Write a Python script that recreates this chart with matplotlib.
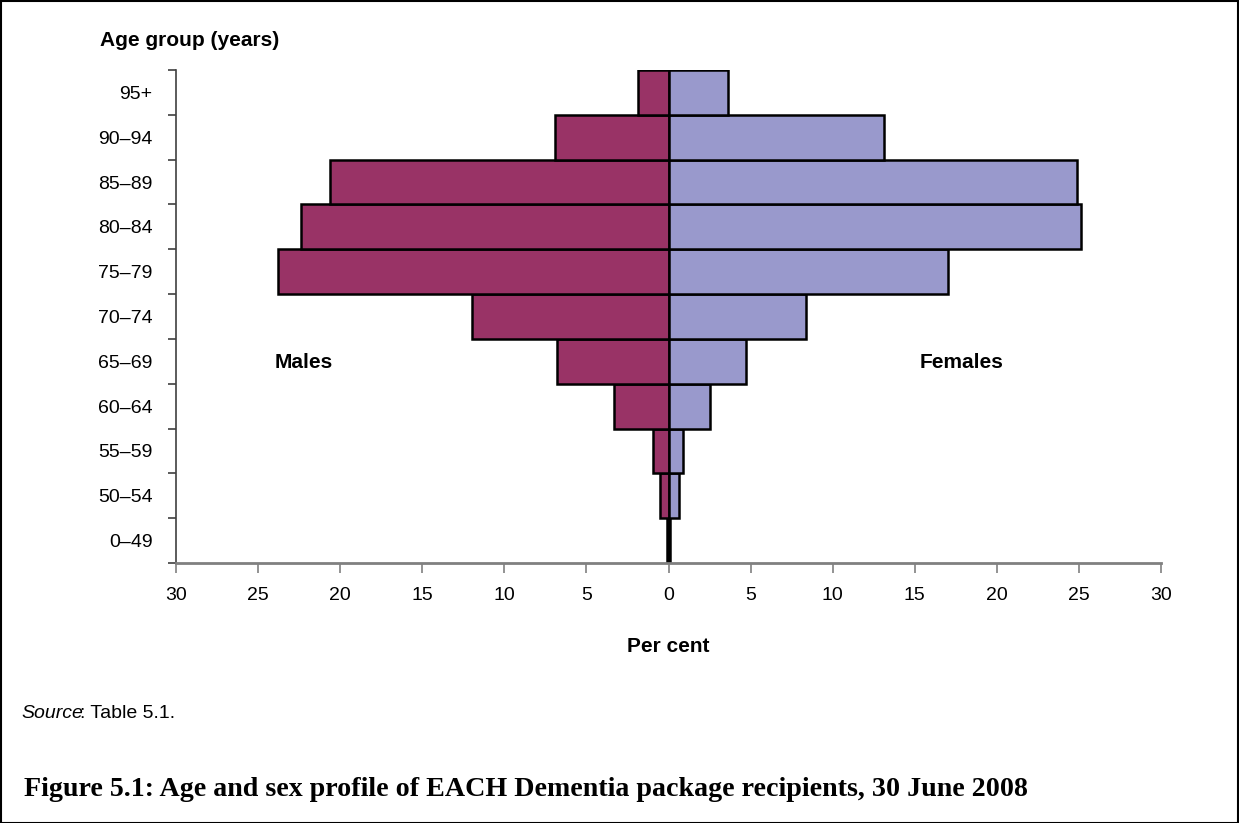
import matplotlib
matplotlib.use("Agg")
import matplotlib.pyplot as plt
from matplotlib.patches import Rectangle

age_groups = ["0–49", "50–54", "55–59", "60–64", "65–69", "70–74",
              "75–79", "80–84", "85–89", "90–94", "95+"]
males = [0.1, 0.5, 0.97, 3.35, 6.8, 12.0, 23.8, 22.4, 20.6, 6.94, 1.83]
females = [0.1, 0.67, 0.9, 2.55, 4.7, 8.4, 17.0, 25.1, 24.9, 13.1, 3.65]
xticks = [-30, -25, -20, -15, -10, -5, 0, 5, 10, 15, 20, 25, 30]
xticklabels = ["30", "25", "20", "15", "10", "5", "0", "5", "10", "15", "20", "25", "30"]

plt.rcParams['font.family'] = ['Liberation Sans', 'DejaVu Sans']

W, H = 1239, 823
fig = plt.figure(figsize=(W / 100, H / 100), dpi=100)
ax = fig.add_axes([176 / W, 1 - 563 / H, (1161 - 176) / W, (563 - 70) / H])

ypos = list(range(len(age_groups)))
ax.barh(ypos, [-m for m in males], height=1.0, color="#993366",
        edgecolor="black", linewidth=1.8)
ax.barh(ypos, females, height=1.0, color="#9999CC",
        edgecolor="black", linewidth=1.8)

ax.set_xlim(-30, 30)
ax.set_ylim(-0.5, len(age_groups) - 0.5)
ax.set_xticks(xticks)
ax.set_xticklabels(xticklabels, fontsize=14)
ax.set_yticks(ypos)
ax.set_yticklabels(age_groups, fontsize=14)
ax.tick_params(axis="y", which="major", length=0, pad=17)
ax.set_yticks([i + 0.5 for i in range(-1, len(age_groups))], minor=True)
ax.tick_params(axis="y", which="minor", length=6, color="#404040", width=1.2, direction="out")
ax.tick_params(axis="x", length=7, color="#808080", width=1.2, direction="out", pad=10)

for s in ["top", "right"]:
    ax.spines[s].set_visible(False)
ax.spines["left"].set_color("#404040")
ax.spines["left"].set_linewidth(1.2)
ax.spines["bottom"].set_color("#808080")
ax.spines["bottom"].set_linewidth(2)

fig.text(100 / W, 1 - 41 / H, "Age group (years)", fontsize=15, fontweight="bold",
         ha="left", va="center")
fig.text(275 / W, 1 - 363 / H, "Males", fontsize=15, fontweight="bold",
         ha="left", va="center")
fig.text(920 / W, 1 - 363 / H, "Females", fontsize=15, fontweight="bold",
         ha="left", va="center")
fig.text(668 / W, 1 - 646 / H, "Per cent", fontsize=15, fontweight="bold",
         ha="center", va="center")
fig.text(21 / W, 1 - 713 / H, "Source", fontsize=14, style="italic",
         ha="left", va="center")
fig.text(80 / W, 1 - 713 / H, ": Table 5.1.", fontsize=14,
         ha="left", va="center")
fig.text(24 / W, 1 - 790 / H,
         "Figure 5.1: Age and sex profile of EACH Dementia package recipients, 30 June 2008",
         fontsize=20.2, fontweight="bold", family=["Liberation Serif", "DejaVu Serif"],
         ha="left", va="center")

fig.add_artist(Rectangle((0.5 / W, 0.5 / H), 1 - 1.5 / W, 1 - 1.5 / H,
                         transform=fig.transFigure, fill=False,
                         edgecolor="black", linewidth=1.5))

fig.savefig("out.png", dpi=100)
